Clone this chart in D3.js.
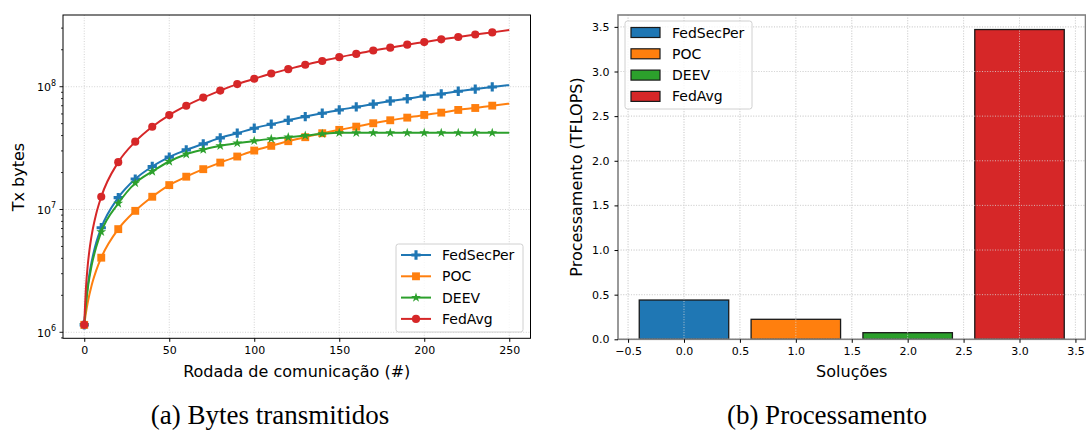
<!DOCTYPE html>
<html>
<head>
<meta charset="utf-8">
<script src="https://cdn.jsdelivr.net/npm/d3@7"></script>
<style>
  body { margin: 0; background: #fff; }
  svg { display: block; font-family: "DejaVu Sans", sans-serif; }
  text { fill: #000; }
</style>
</head>
<body>
<script>
// rodadas (line points) and bytes transmitted per solution
const rounds = [0, 1, 2, 3, 4, 5, 7, 10, 20, 30, 40, 50, 60, 70, 80, 90, 100, 110, 120, 130, 140, 150,
  160, 170, 180, 190, 200, 210, 220, 230, 240, 250];
const fedSecPer = [1.15e6, 1.75e6, 2.35e6, 2.95e6, 3.55e6, 4.15e6, 5.35e6, 7.1e6, 1.25e7, 1.77e7, 2.24e7, 2.67e7,
  3.06e7, 3.42e7, 3.83e7, 4.18e7, 4.59e7, 4.95e7, 5.33e7, 5.71e7, 6.08e7, 6.47e7, 6.84e7, 7.22e7, 7.65e7,
  7.98e7, 8.39e7, 8.73e7, 9.18e7, 9.57e7, 9.95e7, 1.03e8];
const poc = [1.15e6, 1.44e6, 1.73e6, 2.02e6, 2.31e6, 2.6e6, 3.18e6, 4.05e6, 6.92e6, 9.75e6, 1.27e7, 1.58e7,
  1.85e7, 2.13e7, 2.41e7, 2.70e7, 3.02e7, 3.30e7, 3.60e7, 3.88e7, 4.18e7, 4.45e7, 4.73e7, 5.04e7, 5.33e7,
  5.60e7, 5.89e7, 6.15e7, 6.47e7, 6.71e7, 7.01e7, 7.28e7];
const deev = [1.15e6, 1.69e6, 2.23e6, 2.77e6, 3.31e6, 3.85e6, 4.93e6, 6.58e6, 1.12e7, 1.64e7, 2.04e7, 2.46e7,
  2.82e7, 3.07e7, 3.30e7, 3.47e7, 3.62e7, 3.76e7, 3.88e7, 4.0e7, 4.13e7, 4.21e7, 4.21e7, 4.21e7, 4.21e7,
  4.21e7, 4.21e7, 4.21e7, 4.21e7, 4.21e7, 4.21e7, 4.21e7];
const fedAvg = [1.15e6, 2.3e6, 3.45e6, 4.6e6, 5.75e6, 6.9e6, 9.2e6, 1.27e7, 2.43e7, 3.57e7, 4.72e7, 5.87e7,
  7.0e7, 8.15e7, 9.3e7, 1.05e8, 1.16e8, 1.28e8, 1.39e8, 1.51e8, 1.62e8, 1.74e8, 1.85e8, 1.97e8, 2.08e8,
  2.2e8, 2.31e8, 2.43e8, 2.54e8, 2.66e8, 2.77e8, 2.89e8];

const solutions = ["FedSecPer", "POC", "DEEV", "FedAvg"];
const tflops = [0.44, 0.224, 0.074, 3.47];

const xTicksA = [0, 50, 100, 150, 200, 250];
const yTicksA = [1e6, 1e7, 1e8];
const xTicksB = [-0.5, 0, 0.5, 1, 1.5, 2, 2.5, 3, 3.5];
const yTicksB = [0, 0.5, 1, 1.5, 2, 2.5, 3, 3.5];

const colors = ["#1f77b4", "#ff7f0e", "#2ca02c", "#d62728"];
const markers = ["xplus", "square", "star", "circle"];

const W = 1086, H = 431;
const svg = d3.select("body").append("svg").attr("width", W).attr("height", H);

function grid(g, x1, x2, y1, y2) {
  return g.append("line").attr("x1", x1).attr("x2", x2).attr("y1", y1).attr("y2", y2)
    .attr("stroke", "#c8c8c8").attr("stroke-width", 0.8).attr("stroke-dasharray", "1,1.6");
}

function markerPath(kind) {
  if (kind === "square") return d3.symbol(d3.symbolSquare, 62)();
  if (kind === "circle") return d3.symbol(d3.symbolCircle, 52)();
  if (kind === "star") return d3.symbol(d3.symbolStar, 30)();
  // filled x combined with plus
  return d3.symbol(d3.symbolCross, 48)() + d3.symbol(d3.symbolX, 48)();
}

// ---------- (a) bytes transmitidos ----------
const x = d3.scaleLinear().domain([-12.5, 262.5]).range([63, 530.5]);
const y = d3.scaleLog().domain([Math.pow(10, 5.951), Math.pow(10, 8.584)]).range([338.3, 15]);

const ga = svg.append("g");
xTicksA.forEach(t => grid(ga, x(t), x(t), 15, 338.3));
yTicksA.forEach(t => grid(ga, 63, 530.5, y(t), y(t)));

const series = [fedSecPer, poc, deev, fedAvg];
const line = d3.line().x(d => x(d[0])).y(d => y(d[1])).curve(d3.curveMonotoneX);

series.forEach((vals, i) => {
  const pts = rounds.map((r, j) => [r, vals[j]]);
  ga.append("path").attr("d", line(pts)).attr("fill", "none")
    .attr("stroke", colors[i]).attr("stroke-width", 2);
  ga.selectAll(null).data(pts.filter(p => p[0] % 10 === 0 && p[0] <= 240)).join("path")
    .attr("d", markerPath(markers[i]))
    .attr("transform", d => `translate(${x(d[0])},${y(d[1])})`)
    .attr("fill", colors[i]);
});

// frame
ga.append("rect").attr("x", 63).attr("y", 15).attr("width", 530.5 - 63).attr("height", 338.3 - 15)
  .attr("fill", "none").attr("stroke", "#000").attr("stroke-width", 1);

// x axis ticks
const axA = ga.append("g").attr("transform", "translate(0,338.3)")
  .call(d3.axisBottom(x).tickValues(xTicksA).tickSize(3.5).tickPadding(4));
axA.attr("font-family", null).attr("font-size", 11);
axA.select(".domain").remove();

// y log ticks
const minor = [];
[1e5, 1e6, 1e7, 1e8].forEach(d => { for (let k = 2; k <= 9; k++) minor.push(d * k); });
minor.filter(v => y(v) >= 15 && y(v) <= 338.3).forEach(v => {
  ga.append("line").attr("x1", 63).attr("x2", 61).attr("y1", y(v)).attr("y2", y(v))
    .attr("stroke", "#000").attr("stroke-width", 0.8);
});
yTicksA.forEach(v => {
  ga.append("line").attr("x1", 63).attr("x2", 59.5).attr("y1", y(v)).attr("y2", y(v))
    .attr("stroke", "#000").attr("stroke-width", 0.9);
  const t = ga.append("text").attr("x", 56).attr("y", y(v) + 4.5).attr("text-anchor", "end").attr("font-size", 11);
  t.append("tspan").text("10");
  t.append("tspan").attr("dy", -5.5).attr("font-size", 8).text(Math.round(Math.log10(v)));
});

ga.append("text").attr("x", x(125)).attr("y", 377).attr("text-anchor", "middle").attr("font-size", 16)
  .text("Rodada de comunicação (#)");
ga.append("text").attr("transform", "translate(24,177) rotate(-90)").attr("text-anchor", "middle")
  .attr("font-size", 16).text("Tx bytes");

// legend (a)
const lega = ga.append("g").attr("transform", "translate(396,244)");
lega.append("rect").attr("width", 127).attr("height", 88).attr("rx", 2.5)
  .attr("fill", "#fff").attr("fill-opacity", 0.8).attr("stroke", "#d0d0d0");
solutions.forEach((s, i) => {
  const yy = 11 + i * 21.3;
  lega.append("line").attr("x1", 5).attr("x2", 35).attr("y1", yy).attr("y2", yy)
    .attr("stroke", colors[i]).attr("stroke-width", 2);
  lega.append("path").attr("d", markerPath(markers[i]))
    .attr("transform", `translate(20,${yy})`)
    .attr("fill", colors[i]);
  lega.append("text").attr("x", 46).attr("y", yy + 5).attr("font-size", 14).text(s);
});

// ---------- (b) processamento ----------
const xb = d3.scaleLinear().domain([-0.59, 3.59]).range([618, 1085.5]);
const yb = d3.scaleLinear().domain([0, 3.633]).range([339.3, 15]);

const gb = svg.append("g");
xTicksB.forEach(t => grid(gb, xb(t), xb(t), 15, 339.3));
yTicksB.forEach(t => grid(gb, 618, 1085.5, yb(t), yb(t)));

gb.selectAll(".bar").data(tflops).join("rect")
  .attr("x", (d, i) => xb(i - 0.4))
  .attr("width", (d, i) => xb(i + 0.4) - xb(i - 0.4))
  .attr("y", d => yb(d))
  .attr("height", d => yb(0) - yb(d))
  .attr("fill", (d, i) => colors[i])
  .attr("stroke", "#1a1a1a").attr("stroke-width", 1.3);

// grid lines also show over the bars
xTicksB.forEach(t => grid(gb, xb(t), xb(t), 15, 339.3).attr("stroke", "#d8d8d8"));
yTicksB.forEach(t => grid(gb, 618, 1085.5, yb(t), yb(t)).attr("stroke", "#d8d8d8"));

gb.append("rect").attr("x", 618).attr("y", 15).attr("width", 1085.5 - 618).attr("height", 339.3 - 15)
  .attr("fill", "none").attr("stroke", "#808080").attr("stroke-width", 1.6);

const axBx = gb.append("g").attr("transform", "translate(0,339.3)")
  .call(d3.axisBottom(xb).tickValues(xTicksB).tickSize(3.5).tickPadding(4)
    .tickFormat(d => d3.format(".1f")(d).replace("-", "\u2212")));
axBx.attr("font-family", null).attr("font-size", 11);
axBx.select(".domain").remove();

const axBy = gb.append("g").attr("transform", "translate(618,0)")
  .call(d3.axisLeft(yb).tickValues(yTicksB).tickSize(3.5).tickPadding(5).tickFormat(d3.format(".1f")));
axBy.attr("font-family", null).attr("font-size", 11);
axBy.select(".domain").remove();

gb.append("text").attr("x", xb(1.5)).attr("y", 377).attr("text-anchor", "middle").attr("font-size", 16)
  .text("Soluções");
gb.append("text").attr("transform", "translate(582,177) rotate(-90)").attr("text-anchor", "middle")
  .attr("font-size", 16).text("Processamento (TFLOPS)");

// legend (b)
const legb = gb.append("g").attr("transform", "translate(625,21)");
legb.append("rect").attr("width", 127).attr("height", 88).attr("rx", 2.5)
  .attr("fill", "#fff").attr("fill-opacity", 0.8).attr("stroke", "#d0d0d0");
solutions.forEach((s, i) => {
  const yy = 11.5 + i * 21.3;
  legb.append("rect").attr("x", 6).attr("y", yy - 5).attr("width", 29).attr("height", 10)
    .attr("fill", colors[i]).attr("stroke", "#1a1a1a").attr("stroke-width", 1.2);
  legb.append("text").attr("x", 47).attr("y", yy + 5).attr("font-size", 14).text(s);
});

// captions
svg.append("text").attr("x", 270).attr("y", 424).attr("text-anchor", "middle")
  .style("font-family", "'Liberation Serif', serif").attr("font-size", 27).text("(a)  Bytes transmitidos");
svg.append("text").attr("x", 827).attr("y", 424).attr("text-anchor", "middle")
  .style("font-family", "'Liberation Serif', serif").attr("font-size", 27).text("(b)  Processamento");
</script>
</body>
</html>
